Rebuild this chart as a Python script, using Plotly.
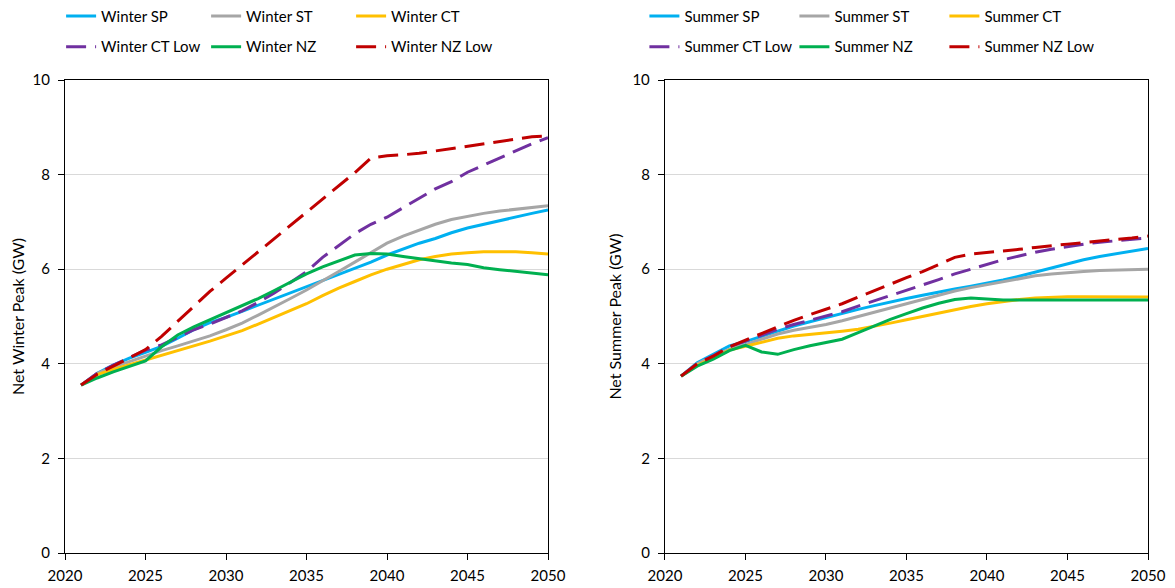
import plotly.graph_objects as go

years = list(range(2021, 2051))

winter_sp = [3.55, 3.8, 3.97, 4.12, 4.24, 4.37, 4.54, 4.72, 4.87, 4.98, 5.11, 5.24, 5.37, 5.5, 5.64,
             5.77, 5.9, 6.03, 6.15, 6.3, 6.42, 6.55, 6.65, 6.77, 6.87, 6.95, 7.03, 7.1, 7.18, 7.25]
winter_st = [3.55, 3.8, 3.93, 4.05, 4.17, 4.28, 4.38, 4.48, 4.59, 4.72, 4.86, 5.03, 5.2, 5.38, 5.56,
             5.75, 5.95, 6.15, 6.35, 6.55, 6.7, 6.82, 6.95, 7.05, 7.12, 7.18, 7.23, 7.27, 7.3, 7.34]
winter_ct = [3.55, 3.77, 3.88, 3.98, 4.07, 4.17, 4.28, 4.38, 4.48, 4.59, 4.7, 4.84, 4.98, 5.12, 5.27,
             5.44, 5.6, 5.74, 5.88, 6.0, 6.1, 6.2, 6.27, 6.32, 6.35, 6.37, 6.37, 6.37, 6.35, 6.32]
winter_ct_low = [3.55, 3.8, 3.97, 4.13, 4.29, 4.4, 4.56, 4.72, 4.84, 4.98, 5.12, 5.3, 5.5, 5.72, 5.95,
                 6.25, 6.5, 6.75, 6.95, 7.1, 7.3, 7.5, 7.7, 7.85, 8.05, 8.2, 8.35, 8.5, 8.65, 8.78]
winter_nz = [3.55, 3.7, 3.83, 3.95, 4.06, 4.36, 4.61, 4.78, 4.93, 5.07, 5.22, 5.38, 5.55, 5.72, 5.9,
             6.05, 6.18, 6.3, 6.33, 6.32, 6.27, 6.22, 6.17, 6.13, 6.1, 6.03, 5.99, 5.95, 5.92, 5.88]
winter_nz_low = [3.55, 3.78, 3.95, 4.12, 4.3, 4.58, 4.9, 5.22, 5.53, 5.81, 6.09, 6.37, 6.65, 6.93, 7.2,
                 7.48, 7.76, 8.04, 8.35, 8.4, 8.42, 8.45, 8.5, 8.55, 8.6, 8.65, 8.7, 8.75, 8.8, 8.82]

summer_sp = [3.74, 4.02, 4.2, 4.38, 4.47, 4.58, 4.7, 4.8, 4.89, 4.98, 5.07, 5.15, 5.23, 5.31, 5.38,
             5.45, 5.52, 5.58, 5.64, 5.7, 5.77, 5.85, 5.94, 6.02, 6.11, 6.2, 6.27, 6.33, 6.39, 6.44]
summer_st = [3.74, 4.0, 4.16, 4.31, 4.41, 4.52, 4.63, 4.71, 4.77, 4.83, 4.91, 5.0, 5.09, 5.18, 5.26,
             5.35, 5.45, 5.54, 5.61, 5.67, 5.74, 5.8, 5.86, 5.9, 5.93, 5.95, 5.97, 5.98, 6.0, 6.0]
summer_ct = [3.74, 3.97, 4.12, 4.29, 4.37, 4.45, 4.54, 4.59, 4.62, 4.65, 4.69, 4.73, 4.79, 4.86, 4.93,
             5.0, 5.08, 5.15, 5.21, 5.27, 5.32, 5.36, 5.39, 5.41, 5.42, 5.42, 5.42, 5.42, 5.42, 5.41]
summer_ct_low = [3.74, 4.0, 4.17, 4.36, 4.48, 4.6, 4.73, 4.83, 4.92, 5.01, 5.1, 5.22, 5.33, 5.45, 5.56,
                 5.67, 5.78, 5.9, 6.0, 6.1, 6.2, 6.28, 6.36, 6.42, 6.48, 6.53, 6.57, 6.6, 6.63, 6.66]
summer_nz = [3.74, 3.95, 4.1, 4.28, 4.39, 4.25, 4.2, 4.3, 4.38, 4.45, 4.52, 4.66, 4.8, 4.94, 5.06,
             5.18, 5.28, 5.36, 5.39, 5.37, 5.35, 5.35, 5.35, 5.35, 5.35, 5.35, 5.35, 5.35, 5.35, 5.35]
summer_nz_low = [3.74, 4.0, 4.16, 4.36, 4.5, 4.64, 4.79, 4.92, 5.04, 5.15, 5.27, 5.41, 5.55, 5.69, 5.82,
                 5.95, 6.1, 6.25, 6.32, 6.35, 6.38, 6.42, 6.46, 6.5, 6.53, 6.56, 6.6, 6.63, 6.66, 6.7]

x_ticks = [2020, 2025, 2030, 2035, 2040, 2045, 2050]
y_ticks = [0, 2, 4, 6, 8, 10]

styles = [
    ("SP", "#00B0F0", "solid"),
    ("ST", "#A6A6A6", "solid"),
    ("CT", "#FFC000", "solid"),
    ("CT Low", "#7030A0", "20px,9px"),
    ("NZ", "#00B050", "solid"),
    ("NZ Low", "#C00000", "20px,9px"),
]

winter = [winter_sp, winter_st, winter_ct, winter_ct_low, winter_nz, winter_nz_low]
summer = [summer_sp, summer_st, summer_ct, summer_ct_low, summer_nz, summer_nz_low]

fig = go.Figure()
for i, (suffix, color, dash) in enumerate(styles):
    fig.add_trace(go.Scatter(
        x=years, y=winter[i], mode="lines", name="Winter " + suffix,
        line=dict(color=color, width=3, dash=dash),
        xaxis="x", yaxis="y",
        legend="legend" if i < 3 else "legend2",
    ))
for i, (suffix, color, dash) in enumerate(styles):
    fig.add_trace(go.Scatter(
        x=years, y=summer[i], mode="lines", name="Summer " + suffix,
        line=dict(color=color, width=3, dash=dash),
        xaxis="x2", yaxis="y2",
        legend="legend3" if i < 3 else "legend4",
    ))

axis_common = dict(showline=True, linecolor="black", linewidth=1.3, mirror=True,
                   ticks="outside", ticklen=6, tickcolor="black",
                   tickfont=dict(size=15, color="black"), zeroline=False)

fig.update_layout(
    width=1167, height=580,
    margin=dict(l=57, r=27, t=72, b=35, autoexpand=False),
    paper_bgcolor="white", plot_bgcolor="white",
    font=dict(family="Lato, sans-serif", size=15, color="black"),
    xaxis=dict(domain=[0, 0.446], range=[2020, 2050], tickvals=x_ticks, showgrid=False,
               anchor="y", ticklabelstandoff=3, **axis_common),
    yaxis=dict(domain=[0, 1], range=[0, 10], tickvals=y_ticks, showgrid=True,
               gridcolor="#D9D9D9", gridwidth=1, anchor="x", ticklabelstandoff=5,
               title=dict(text="Net Winter Peak (GW)", font=dict(size=16), standoff=6),
               **axis_common),
    xaxis2=dict(domain=[0.554, 1], range=[2020, 2050], tickvals=x_ticks, showgrid=False,
                anchor="y2", ticklabelstandoff=3, **axis_common),
    yaxis2=dict(domain=[0, 1], range=[0, 10], tickvals=y_ticks, showgrid=True,
                gridcolor="#D9D9D9", gridwidth=1, anchor="x2", ticklabelstandoff=5,
                title=dict(text="Net Summer Peak (GW)", font=dict(size=16), standoff=6),
                **axis_common),
)

leg_common = dict(orientation="h", xanchor="left", yanchor="middle",
                  font=dict(size=15, color="black"), bgcolor="rgba(0,0,0,0)",
                  entrywidthmode="pixels", traceorder="normal")
fig.update_layout(
    legend=dict(x=-0.0036, y=1.135, entrywidth=100, **leg_common),
    legend2=dict(x=-0.0036, y=1.070, entrywidth=100, **leg_common),
    legend3=dict(x=0.535, y=1.135, entrywidth=105, **leg_common),
    legend4=dict(x=0.535, y=1.070, entrywidth=105, **leg_common),
)

fig.write_html("out.html")
